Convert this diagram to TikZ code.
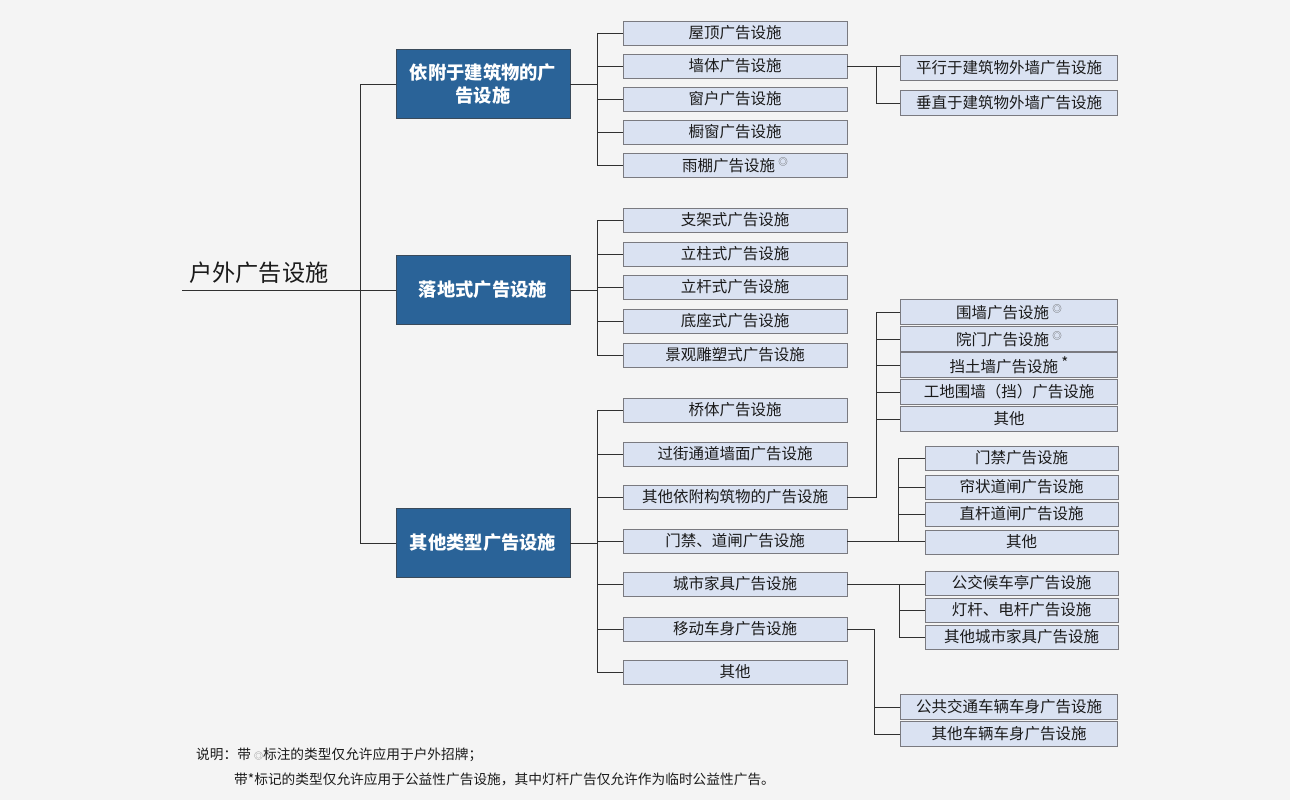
\documentclass[tikz,border=0pt]{standalone}
\usepackage{fontspec}
\setmainfont{Noto Sans CJK SC}
\definecolor{bg}{HTML}{F4F4F4}
\definecolor{bluebox}{HTML}{2A6398}
\definecolor{blueedge}{HTML}{3A4A5A}
\definecolor{leaffill}{HTML}{DAE2F2}
\definecolor{leafedge}{HTML}{7A7A80}
\definecolor{linec}{HTML}{303030}
\definecolor{txt}{HTML}{1A1A1A}
\newcommand{\mkc}{\ \raisebox{0.7ex}{\fontsize{9.5}{9}\selectfont\textcolor{black!65}{◎}}}
\newcommand{\mks}{\ \raisebox{0.5ex}{\fontsize{15}{14}\selectfont *}}
\begin{document}
\begin{tikzpicture}[x=1pt,y=-1pt,
  cat/.style={draw=blueedge,fill=bluebox,text=white,minimum width=174pt,minimum height=69pt,inner sep=0pt,align=center,font=\fontsize{18.3}{23}\selectfont\bfseries},
  leaf/.style={draw=leafedge,fill=leaffill,text=txt,minimum width=224pt,minimum height=24pt,inner sep=0pt,font=\fontsize{15.5}{16}\selectfont},
  sub/.style={draw=leafedge,fill=leaffill,text=txt,minimum width=217pt,minimum height=25pt,inner sep=0pt,font=\fontsize{15.5}{16}\selectfont},
  subn/.style={draw=leafedge,fill=leaffill,text=txt,minimum width=193pt,minimum height=24pt,inner sep=0pt,font=\fontsize{15.5}{16}\selectfont},
  conn/.style={draw=linec,line width=0.9pt}]
\fill[bg] (0,0) rectangle (1290,800);
\useasboundingbox (0,0) rectangle (1290,800);
% root
\node[anchor=south west,inner sep=0pt,text=txt,font=\fontsize{23.2}{25}\selectfont] (root) at (189,284) {户外广告设施};
\coordinate (rootl) at (182,290);
% categories
\node[cat] (c1) at (483,84) {依附于建筑物的广\\告设施};
\node[cat] (c2) at (483,290) {落地式广告设施};
\node[cat] (c3) at (483,543) {其他类型广告设施};
\draw[conn] (rootl) -- (c2.west);
\draw[conn] (c1.west) -| (360,290);
\draw[conn] (c3.west) -| (360,290);
% group 1
\node[leaf] (a1) at (735,33) {屋顶广告设施};
\node[leaf] (a2) at (735,66) {墙体广告设施};
\node[leaf] (a3) at (735,99) {窗户广告设施};
\node[leaf] (a4) at (735,132) {橱窗广告设施};
\node[leaf] (a5) at (735,165) {雨棚广告设施\mkc};
\draw[conn] (c1.east) -- (597,84);
\foreach \n in {a1,a2,a3,a4,a5} \draw[conn] (\n.west) -- ++(-26,0);
\draw[conn] (597,33) -- (597,165);
\node[sub] (w1) at (1009,68) {平行于建筑物外墙广告设施};
\node[sub] (w2) at (1009,103) {垂直于建筑物外墙广告设施};
\draw[conn] (a2.east) -- (a2.east -| w1.west);
\draw[conn] (w2.west) -| (876,66);
% group 2
\node[leaf] (b1) at (735,220) {支架式广告设施};
\node[leaf] (b2) at (735,254) {立柱式广告设施};
\node[leaf] (b3) at (735,287) {立杆式广告设施};
\node[leaf] (b4) at (735,321) {底座式广告设施};
\node[leaf] (b5) at (735,355) {景观雕塑式广告设施};
\draw[conn] (c2.east) -- (597,290);
\foreach \n in {b1,b2,b3,b4,b5} \draw[conn] (\n.west) -- ++(-26,0);
\draw[conn] (597,220) -- (597,355);
% group 3
\node[leaf] (d1) at (735,410) {桥体广告设施};
\node[leaf] (d2) at (735,454) {过街通道墙面广告设施};
\node[leaf] (d3) at (735,497) {其他依附构筑物的广告设施};
\node[leaf] (d4) at (735,541) {门禁、道闸广告设施};
\node[leaf] (d5) at (735,584) {城市家具广告设施};
\node[leaf] (d6) at (735,629) {移动车身广告设施};
\node[leaf] (d7) at (735,672) {其他};
\draw[conn] (c3.east) -- (597,543);
\foreach \n in {d1,d2,d3,d4,d5,d6,d7} \draw[conn] (\n.west) -- ++(-26,0);
\draw[conn] (597,410) -- (597,672);
% sub of d3
\node[sub] (e1) at (1009,312) {围墙广告设施\mkc};
\node[sub] (e2) at (1009,339) {院门广告设施\mkc};
\node[sub] (e3) at (1009,365) {挡土墙广告设施\mks};
\node[sub] (e4) at (1009,392) {工地围墙（挡）广告设施};
\node[sub] (e5) at (1009,419) {其他};
\draw[conn] (d3.east) -| (876,312);
\foreach \n in {e1,e2,e3,e4,e5} \draw[conn] (\n.west) -- (876,0 |- \n.west);
% sub of d4
\node[subn] (f1) at (1021.5,458) {门禁广告设施};
\node[subn] (f2) at (1021.5,487) {帘状道闸广告设施};
\node[subn] (f3) at (1021.5,514) {直杆道闸广告设施};
\node[subn] (f4) at (1021.5,542) {其他};
\draw[conn] (d4.east) -- (d4.east -| f4.west);
\draw[conn] (898,541) -- (898,458);
\foreach \n in {f1,f2,f3} \draw[conn] (\n.west) -- (898,0 |- \n.west);
% sub of d5
\node[subn] (g1) at (1021.5,583) {公交候车亭广告设施};
\node[subn] (g2) at (1021.5,610) {灯杆、电杆广告设施};
\node[subn] (g3) at (1021.5,637) {其他城市家具广告设施};
\draw[conn] (d5.east) -- (d5.east -| g1.west);
\draw[conn] (899,584) -- (899,637);
\foreach \n in {g2,g3} \draw[conn] (\n.west) -- (899,0 |- \n.west);
% sub of d6
\node[sub] (h1) at (1009,707) {公共交通车辆车身广告设施};
\node[sub] (h2) at (1009,734) {其他车辆车身广告设施};
\draw[conn] (d6.east) -| (874,734);
\draw[conn] (h2.west) -- (874,734);
\draw[conn] (h1.west) -- (874,707);
% note
\node[anchor=west,inner sep=0pt,text=txt,font=\fontsize{13.7}{15}\selectfont] (n1) at (196,755) {说明：带 {\fontsize{9}{8}\selectfont\textcolor{gray}{◎}}标注的类型仅允许应用于户外招牌；};
\node[anchor=west,inner sep=0pt,text=txt,font=\fontsize{13.7}{15}\selectfont] (n2) at (234,779) {带*标记的类型仅允许应用于公益性广告设施，其中灯杆广告仅允许作为临时公益性广告。};
\end{tikzpicture}
\end{document}
